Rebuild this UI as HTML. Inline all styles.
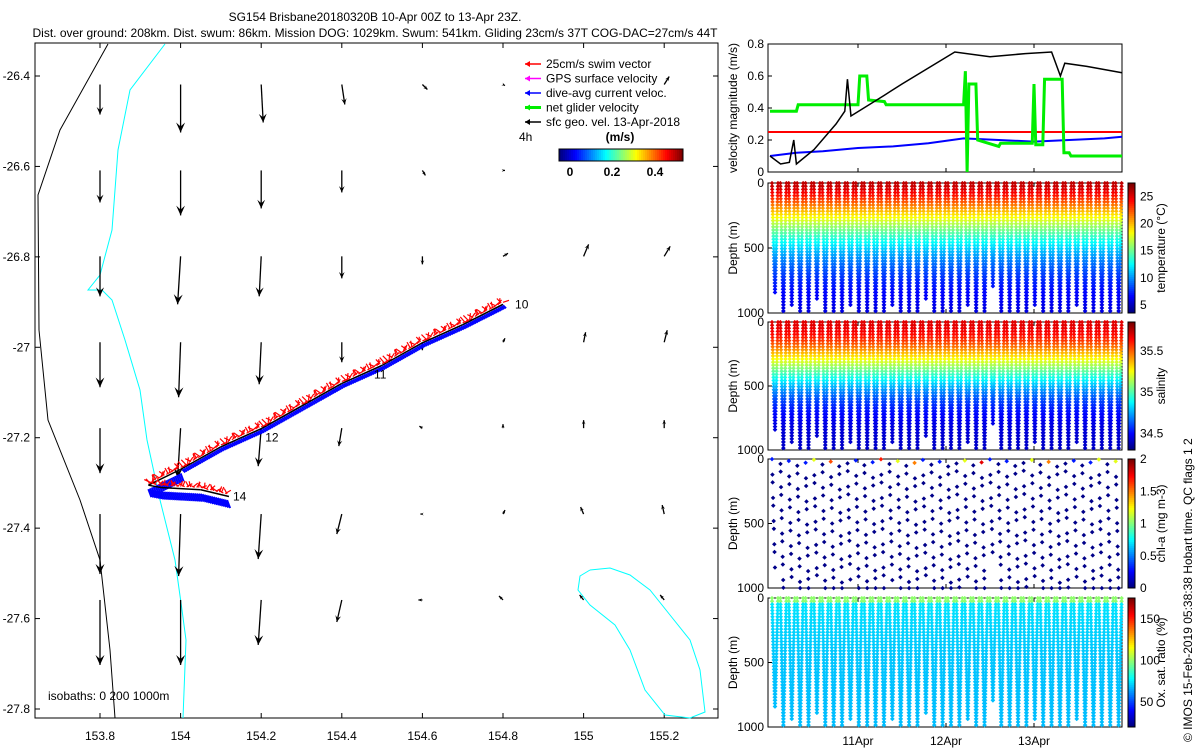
<!DOCTYPE html>
<html><head><meta charset="utf-8"><style>
body{margin:0;background:#fff}
svg{font-family:"Liberation Sans",sans-serif;font-size:12px}
</style></head><body>
<svg id="s" width="1200" height="750" viewBox="0 0 1200 750" xmlns="http://www.w3.org/2000/svg">
<rect width="1200" height="750" fill="#fff"/>
<text x="375" y="21" text-anchor="middle">SG154 Brisbane20180320B 10-Apr 00Z to 13-Apr 23Z.</text>
<text x="375" y="37" text-anchor="middle">Dist. over ground: 208km. Dist. swum: 86km. Mission DOG: 1029km. Swum: 541km. Gliding 23cm/s 37T COG-DAC=27cm/s 44T</text>
<g id="map"></g>
<g id="right"></g>
<text transform="translate(1192,742) rotate(-90)" font-size="12">© IMOS 15-Feb-2019 05:38:38 Hobart time. QC flags 1  2</text>
</svg>
<script>
// ---------- MAP DATA ----------
const lonTicks=[153.8,154,154.2,154.4,154.6,154.8,155,155.2];
const latTicks=[-26.4,-26.6,-26.8,-27,-27.2,-27.4,-27.6,-27.8];
const gridLons=[153.8,154,154.2,154.4,154.6,154.8,155,155.2];
const gridLats=[-26.41,-26.6,-26.79,-26.98,-27.17,-27.36,-27.55];
const geoU=[[0,0,0.02,0.03,0.05,0.02,0,0.05],[0,0,0,0,0.03,0.02,0,0],[0,-0.03,-0.02,0,0,0.05,0.05,0.06],[0,-0.02,-0.02,0,0,0.02,0.02,0.03],[0,-0.03,-0.03,-0.03,-0.03,0,0,0],[0,-0.02,-0.03,-0.05,-0.02,0.02,-0.03,-0.02],[0,0,-0.03,-0.05,-0.04,-0.04,-0.04,-0.04]];
const geoV=[[-0.3,-0.48,-0.38,-0.2,-0.05,-0.01,0,0.08],[-0.32,-0.45,-0.38,-0.22,-0.05,0,0,0],[-0.4,-0.48,-0.4,-0.22,-0.08,0.03,0.12,0.1],[-0.45,-0.55,-0.42,-0.2,-0.08,0.04,0.1,0.12],[-0.45,-0.5,-0.38,-0.18,0.02,0.04,0.08,0.08],[-0.6,-0.62,-0.45,-0.2,0,0.04,0.07,0.09],[-0.65,-0.65,-0.45,-0.22,0,0.04,0.05,0.05]];
const trackLon=[154.8,154.7,154.6,154.5,154.4,154.3,154.2,154.1,154.0,153.92,153.95,154.05,154.12];
const trackLat=[-26.905,-26.95,-26.99,-27.04,-27.08,-27.13,-27.18,-27.22,-27.27,-27.305,-27.31,-27.315,-27.33];
const trackLabels=["10","11","12","14"];
const labelLon=[154.82,154.47,154.2,154.12];
const labelLat=[-26.905,-27.06,-27.2,-27.33];
// ---------- TIME SERIES DATA ----------
const dayLabels=["11Apr","12Apr","13Apr"];
const dayTicks=[1,2,3];
const blackT=[0,0.12,0.22,0.27,0.3,0.5,0.75,0.85,0.88,0.92,1.3,1.5,2.1,2.5,2.9,3.2,3.3,3.35,3.6,4];
const blackV=[0.1,0.05,0.06,0.2,0.05,0.14,0.3,0.38,0.58,0.35,0.48,0.55,0.75,0.72,0.74,0.75,0.6,0.68,0.66,0.62];
const greenT=[0,0.3,0.32,1.0,1.02,1.1,1.12,1.3,1.32,2.2,2.22,2.24,2.26,2.34,2.36,2.6,2.62,2.98,3.0,3.02,3.1,3.12,3.32,3.34,3.4,3.42,4];
const greenV=[0.38,0.38,0.42,0.42,0.6,0.6,0.45,0.44,0.42,0.42,0.63,0,0.55,0.55,0.2,0.16,0.18,0.18,0.55,0.17,0.17,0.58,0.58,0.12,0.12,0.1,0.1];
const blueT=[0,0.3,0.6,1.0,1.4,1.8,2.2,2.6,3.0,3.4,3.8,4];
const blueV=[0.1,0.12,0.13,0.15,0.16,0.18,0.21,0.2,0.19,0.2,0.21,0.22];
const diveMax=[850,1000,950,1000,1000,900,1000,1000,1000,950,1000,1000,1000,1000,950,1000,1000,1000,900,1000,1000,1000,1000,950,1000,1000,800,1000,1000,1000,1000,950,1000,1000,1000,1000,950,1000,1000,1000,1000,1000];
const chlSurf=[0.3,1.2,0.3,1.5,0.3,1.2,0.3,1.6,0.3,1.2,0.3,1.5,0.3,1.7,0.3,1.2,0.3,1.5,0.3,1.0,0.3,1.5,0.3,1.2,0.3,1.8,0.3,1.2,0.3,1.3,0.3,1.2,0.3,1.5,0.3,1.2,0.3,1.5,0.3,1.2,0.3,1.2];

const NS="http://www.w3.org/2000/svg";
function mk(p,t,a){const e=document.createElementNS(NS,t);for(const k in a)e.setAttribute(k,a[k]);p.appendChild(e);return e;}
function jet(v){v=Math.max(0,Math.min(1,v));const r=Math.max(0,Math.min(1,1.5-Math.abs(4*v-3))),g=Math.max(0,Math.min(1,1.5-Math.abs(4*v-2))),b=Math.max(0,Math.min(1,1.5-Math.abs(4*v-1)));return`rgb(${r*255|0},${g*255|0},${b*255|0})`;}

// ---------- MAP ----------
const map=document.getElementById('map');
const mx=lon=>100+(lon-153.8)*403, my=lat=>76+(-26.4-lat)*(633/1.4);
let e=mk(map,'rect',{x:35,y:43,width:683,height:675,fill:'none',stroke:'#000'});


lonTicks.forEach(l=>{const x=mx(l);mk(map,'line',{x1:x,x2:x,y1:718,y2:713,stroke:'#000'});mk(map,'line',{x1:x,x2:x,y1:43,y2:48,stroke:'#000'});
 const t=mk(map,'text',{x:x,y:740,'text-anchor':'middle'});t.textContent=String(l);
 
 });
latTicks.forEach(l=>{const y=my(l);mk(map,'line',{x1:35,x2:40,y1:y,y2:y,stroke:'#000'});mk(map,'line',{x1:718,x2:713,y1:y,y2:y,stroke:'#000'});
 const t=mk(map,'text',{x:30,y:y+4,'text-anchor':'end'});t.textContent=String(l);
 
 });
e=mk(map,'polyline',{points:'108,44 60,130 38,195 39,330 48,420 80,500 100,560 110,650 115,718',fill:'none',stroke:'#000'});


e=mk(map,'polyline',{points:'165,44 130,90 118,150 112,230 100,275 88,290 102,290 112,300 125,340 140,390 147,440 160,500 175,560 182,610 186,640 183,718',fill:'none',stroke:'#0ff'});


e=mk(map,'polyline',{points:'590,570 610,568 630,575 650,590 670,615 690,640 700,670 705,712 690,718 665,715 645,690 630,650 615,625 590,605 578,590 580,576 590,570',fill:'none',stroke:'#0ff'});


const AS=100;
gridLats.forEach((la,i)=>gridLons.forEach((lo,j)=>{
 const x=mx(lo),y=my(la)+4,dx=geoU[i][j]*AS,dy=-geoV[i][j]*AS;const L=Math.hypot(dx,dy);
 const g=mk(map,'g',{});
 
 
 mk(g,'line',{x1:x,y1:y,x2:x+dx,y2:y+dy,stroke:'#000','stroke-width':1.3});
 if(L>1){const ux=dx/L,uy=dy/L,h=Math.min(10,3+L*0.15);
  mk(g,'polygon',{points:`${x+dx},${y+dy} ${x+dx-h*ux-h*0.45*uy},${y+dy-h*uy+h*0.45*ux} ${x+dx-0.6*h*ux},${y+dy-0.6*h*uy} ${x+dx-h*ux+h*0.45*uy},${y+dy-h*uy-h*0.45*ux}`,fill:'#000'});}
}));
// track
const tg=mk(map,'g',{});


for(let i=0;i<trackLon.length-1;i++){
 const x1=mx(trackLon[i]),y1=my(trackLat[i]),x2=mx(trackLon[i+1]),y2=my(trackLat[i+1]);
 const n=Math.max(3,Math.round(Math.hypot(x2-x1,y2-y1)/2));
 for(let k=0;k<n;k++){const f=k/n,x=x1+(x2-x1)*f,y=y1+(y2-y1)*f;const w=(i>=8)?1:0;
  mk(tg,'line',{x1:x,y1:y+1+w*3,x2:x+3,y2:y+4+w*8,stroke:'#00f','stroke-width':2});
  const a=(k*2.39)%6.28;mk(tg,'line',{x1:x,y1:y-2,x2:x+6*Math.cos(a),y2:y-2-4*Math.abs(Math.sin(a))-2,stroke:'#f00','stroke-width':1.2});}
 mk(tg,'line',{x1:x1,y1:y1,x2:x2,y2:y2,stroke:'#000','stroke-width':1.5});}
trackLabels.forEach((s,i)=>{const t=mk(map,'text',{x:mx(labelLon[i])+4,y:my(labelLat[i])+4});t.textContent=s;
 
 });
// legend
const lg=mk(map,'g',{});


[["25cm/s swim vector","#f00"],["GPS surface velocity","#f0f"],["dive-avg current veloc.","#00f"],["net glider velocity","#0e0"],["sfc geo. vel. 13-Apr-2018","#000"]].forEach((r,i)=>{
 const y=68+i*14.5;const en=mk(lg,'g',{});
 
 
 mk(en,'line',{x1:525,x2:541,y1:y-4,y2:y-4,stroke:r[1],'stroke-width':i==3?3:1.5});
 mk(en,'polygon',{points:`525,${y-4} 530,${y-7} 530,${y-1}`,fill:r[1]});
 const t=mk(en,'text',{x:546,y:y});t.textContent=r[0];});
e=mk(lg,'text',{x:519,y:141});e.textContent='4h';
e=mk(lg,'text',{x:620,y:141,'text-anchor':'middle','font-weight':'bold'});e.textContent='(m/s)';
for(let i=0;i<62;i++){mk(lg,'rect',{x:559+i*2,y:149,width:2.2,height:12,fill:jet(i/61)});}
mk(lg,'rect',{x:559,y:149,width:124,height:12,fill:'none',stroke:'#000'});
[["0",570],["0.2",612],["0.4",655]].forEach(a=>{const t=mk(lg,'text',{x:a[1],y:176,'text-anchor':'middle','font-weight':'bold'});t.textContent=a[0];});
e=mk(map,'text',{x:48,y:700});e.textContent='isobaths: 0   200   1000m';



// ---------- RIGHT PANELS ----------
const R=document.getElementById('right');
const X0=768,X1=1122,tx=d=>770+d*88;
const panels=[[44,172],[183,313],[322,450],[459,588],[598,727]];
function frame(p,name){const [a,b]=p;const g=mk(R,'g',{});
 mk(g,'rect',{x:X0,y:a,width:X1-X0,height:b-a,fill:'none',stroke:'#000'});
 dayTicks.forEach(d=>{mk(g,'line',{x1:tx(d),x2:tx(d),y1:b,y2:b-4,stroke:'#000'});mk(g,'line',{x1:tx(d),x2:tx(d),y1:a,y2:a+4,stroke:'#000'});});return g;}
// velocity panel
const vy=v=>172-v*160;
let g=frame(panels[0],'velocity-panel');
[0,0.2,0.4,0.6,0.8].forEach(v=>{mk(g,'line',{x1:X0,x2:X0+4,y1:vy(v),y2:vy(v),stroke:'#000'});const t=mk(g,'text',{x:X0-4,y:vy(v)+4,'text-anchor':'end'});t.textContent=String(v);});
e=mk(g,'text',{transform:`translate(737,108) rotate(-90)`,'text-anchor':'middle'});e.textContent='velocity magnitude (m/s)';
mk(g,'line',{x1:X0,x2:X1,y1:vy(0.25),y2:vy(0.25),stroke:'#f00','stroke-width':2});
function series(T,V,c,w,n){const s=mk(g,'polyline',{points:T.map((t,i)=>tx(t)+','+vy(V[i])).join(' '),fill:'none',stroke:c,'stroke-width':w});}
series(blueT,blueV,'#00f',2,'dive-avg-current-line');
series(greenT,greenV,'#0e0',3,'net-velocity-line');
series(blackT,blackV,'#000',1.5,'glider-speed-line');
// depth panels
const cfg=[
 {name:'temperature-panel',lab:'temperature (°C)',ticks:[25,20,15,10,5],lo:3.5,hi:27.5,f:(z,i)=>5+21*Math.exp(-Math.pow(z/450,1.5)),step:24},
 {name:'salinity-panel',lab:'salinity',ticks:[35.5,35,34.5],lo:34.3,hi:35.85,f:(z,i)=>34.4+1.3*Math.exp(-Math.pow(z/450,2)),step:24},
 {name:'chla-panel',lab:'chl-a (mg m-3)',ticks:[2,1.5,1,0.5,0],lo:0,hi:2,f:(z,i)=>z<30?chlSurf[i]:0.02,step:90},
 {name:'oxygen-panel',lab:'Ox. sat. ratio (%)',ticks:[150,100,50],lo:20,hi:175,f:(z,i)=>z<40?100:68+8*Math.exp(-z/300),step:24}];
cfg.forEach((c,pi)=>{
 const [a,b]=panels[pi+1];const dy=z=>a+z*(b-a)/1000;
 const G=frame(panels[pi+1],c.name);
 [[0,'0'],[500,'500'],[1000,'1000']].forEach(k=>{mk(G,'line',{x1:X0,x2:X0+4,y1:dy(k[0]),y2:dy(k[0]),stroke:'#000'});const t=mk(G,'text',{x:X0-4,y:dy(k[0])+4,'text-anchor':'end'});t.textContent=k[1];});
 e=mk(G,'text',{transform:`translate(737,${(a+b)/2}) rotate(-90)`,'text-anchor':'middle'});e.textContent='Depth (m)';
 diveMax.forEach((m,i)=>{const x0=tx(i*4/diveMax.length)+2,w=6;
  for(let z=0;z<=m;z+=c.step){const off=(pi==2)?((i*37+z*7)%60):0;const zz=Math.min(m,z+off);
   const v=c.f(zz,i);const col=jet((v-c.lo)/(c.hi-c.lo));const fr=zz/m;
   const xd=x0+fr*w*0.5, xu=x0+w-fr*w*0.5;
   mk(G,'rect',{x:xd-1.5,y:dy(zz)-1.5,width:3.2,height:3.2,fill:col,transform:`rotate(45 ${xd} ${dy(zz)})`});
   if(pi!=2)mk(G,'rect',{x:xu-1.5,y:dy(zz)-1.5,width:3.2,height:3.2,fill:col,transform:`rotate(45 ${xu} ${dy(zz)})`});}
 });
 const cb=mk(G,'g',{});
 for(let i=0;i<64;i++){mk(cb,'rect',{x:1128,y:b-(i+1)*(b-a)/64,width:7,height:(b-a)/64+0.5,fill:jet(i/63)});}
 mk(cb,'rect',{x:1128,y:a,width:7,height:b-a,fill:'none',stroke:'#000'});
 c.ticks.forEach(v=>{const y=b-(v-c.lo)/(c.hi-c.lo)*(b-a);const t=mk(cb,'text',{x:1140,y:y+4});t.textContent=String(v);});
 e=mk(G,'text',{transform:`translate(1165,${(a+b)/2}) rotate(-90)`,'text-anchor':'middle'});e.textContent=c.lab;
});
dayTicks.forEach((d,i)=>{const t=mk(R,'text',{x:tx(d),y:745,'text-anchor':'middle'});t.textContent=dayLabels[i];
 
 });
</script>
</body></html>
